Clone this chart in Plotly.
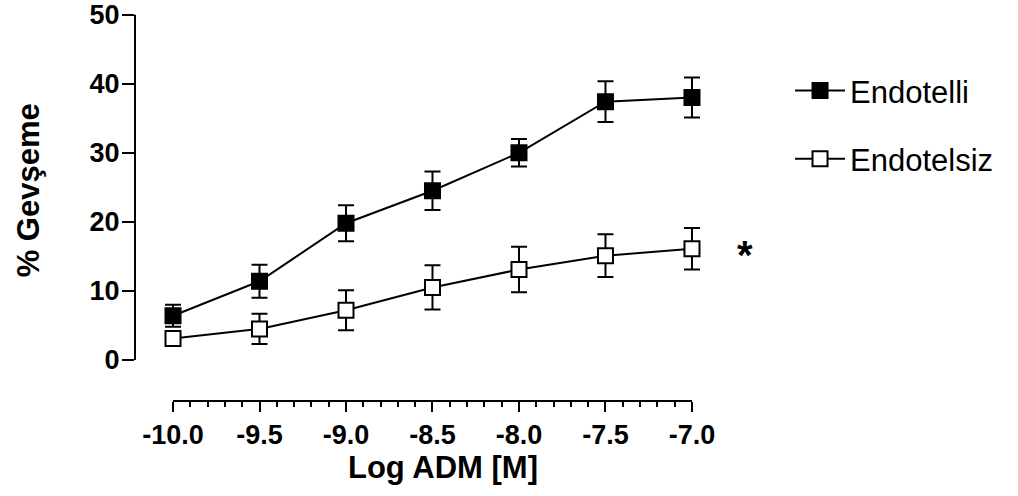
import plotly.graph_objects as go

# ---- data ----
log_adm = [-10.0, -9.5, -9.0, -8.5, -8.0, -7.5, -7.0]
endotelli = [6.4, 11.4, 19.8, 24.5, 30.0, 37.4, 38.0]
endotelli_sem = [1.6, 2.4, 2.6, 2.8, 2.0, 2.95, 2.9]
endotelsiz = [3.1, 4.5, 7.2, 10.5, 13.1, 15.1, 16.1]
endotelsiz_sem = [0.8, 2.2, 2.9, 3.2, 3.3, 3.1, 3.0]

x_tickvals = [-10.0, -9.5, -9.0, -8.5, -8.0, -7.5, -7.0]
x_ticktext = ["-10.0", "-9.5", "-9.0", "-8.5", "-8.0", "-7.5", "-7.0"]
x_minor = [round(-10.0 + 0.1 * i, 1) for i in range(31)]
y_tickvals = [0, 10, 20, 30, 40, 50]

FONT = "Liberation Sans, Arial, sans-serif"
BLACK = "#000000"

fig = go.Figure()

fig.add_trace(go.Scatter(
    x=log_adm, y=endotelli, name="Endotelli", legendgroup="a",
    mode="lines+markers",
    line=dict(color=BLACK, width=2),
    marker=dict(symbol="square", size=15, color=BLACK, line=dict(color=BLACK, width=2)),
    error_y=dict(type="data", array=endotelli_sem, visible=True, color=BLACK, thickness=2, width=8),
))
fig.add_trace(go.Scatter(
    x=log_adm, y=endotelsiz, name="Endotelsiz", legendgroup="b",
    mode="lines+markers",
    line=dict(color=BLACK, width=2),
    marker=dict(symbol="square", size=15, color="white", line=dict(color=BLACK, width=2)),
    error_y=dict(type="data", array=endotelsiz_sem, visible=True, color=BLACK, thickness=2, width=8),
))

# Prism-style detached axis lines
fig.add_shape(type="line", xref="paper", yref="y", x0=0, x1=0, y0=y_tickvals[0], y1=y_tickvals[-1],
              line=dict(color=BLACK, width=2))
fig.add_shape(type="line", xref="x", yref="paper", x0=x_tickvals[0], x1=x_tickvals[-1], y0=0, y1=0,
              line=dict(color=BLACK, width=2))

# axis titles
fig.add_annotation(text="<b>Log ADM [M]</b>", xref="x", yref="paper",
                   x=(x_tickvals[0] + x_tickvals[-1]) / 2, y=0, xshift=11, yshift=-66,
                   showarrow=False, font=dict(family=FONT, size=31, color=BLACK),
                   xanchor="center", yanchor="middle")
fig.add_annotation(text="<b>% Gevşeme</b>", xref="paper", yref="y",
                   x=0, y=25, xshift=-107, yshift=-3, textangle=-90,
                   showarrow=False, font=dict(family=FONT, size=31, color=BLACK),
                   xanchor="center", yanchor="middle")
# significance marker
fig.add_annotation(text="<b>*</b>", xref="x", yref="y",
                   x=log_adm[-1], y=endotelsiz[-1], xshift=53, yshift=-6,
                   showarrow=False, font=dict(family=FONT, size=40, color=BLACK),
                   xanchor="center", yanchor="middle")

fig.update_xaxes(
    range=[-10.2197, -6.838], showline=False, showgrid=False, zeroline=False,
    tickmode="array", tickvals=x_tickvals, ticktext=x_ticktext,
    ticks="outside", ticklen=10, tickwidth=2, tickcolor=BLACK,
    tickfont=dict(family=FONT, size=27, color=BLACK, weight="bold"),
    minor=dict(tickmode="array", tickvals=x_minor, ticks="outside", ticklen=5,
               tickwidth=2, tickcolor=BLACK, showgrid=False),
    automargin=False,
)
fig.update_yaxes(
    range=[-5.94, 50.1], showline=False, showgrid=False, zeroline=False,
    tickmode="array", tickvals=y_tickvals,
    ticks="outside", ticklen=12, tickwidth=2, tickcolor=BLACK,
    tickfont=dict(family=FONT, size=27, color=BLACK, weight="bold"),
    ticklabelstandoff=-3, ticklabeloverflow="allow",
    automargin=False,
)

fig.update_layout(
    width=1018, height=496,
    margin=dict(l=135, r=298, t=14, b=95, autoexpand=False),
    paper_bgcolor="white", plot_bgcolor="white",
    font=dict(family=FONT, color=BLACK),
    showlegend=True,
    legend=dict(x=1.1197, y=0.871, xanchor="left", yanchor="top",
                font=dict(family=FONT, size=31, color=BLACK),
                tracegroupgap=25, itemwidth=50, bgcolor="rgba(0,0,0,0)"),
)

fig.write_html("out.html", config={"displayModeBar": False},
               post_script="document.body.style.margin='0';")
